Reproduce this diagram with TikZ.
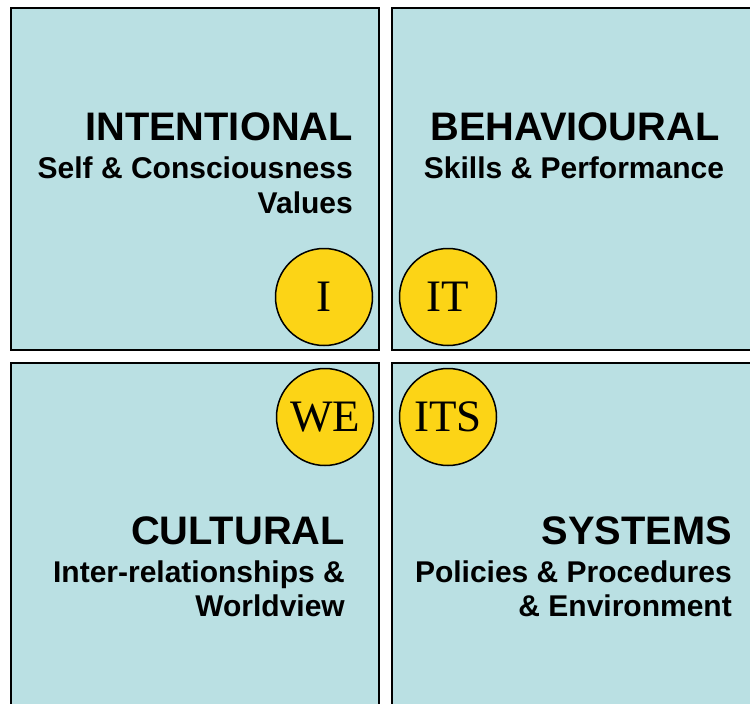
\documentclass[tikz,border=0pt]{standalone}
\usepackage{fontspec}
\setmainfont{Liberation Sans}
\newfontfamily\discfont{Liberation Serif}
\definecolor{quadfill}{RGB}{186,224,227}
\definecolor{discfill}{RGB}{252,212,22}

\begin{document}
\begin{tikzpicture}[x=1pt,y=-1pt,
  quadbox/.style={fill=quadfill,draw=black,line width=1.8pt},
  discnode/.style={circle,fill=discfill,draw=black,line width=1.5pt,
    minimum size=97pt,inner sep=0pt,
    font=\discfont\fontsize{45}{45}\selectfont},
  titletext/.style={font=\bfseries\fontsize{39.8}{42}\selectfont,inner sep=0pt},
  subtext/.style={font=\bfseries\fontsize{30}{32}\selectfont,inner sep=0pt}]
\useasboundingbox (0,0) rectangle (750,704);
\begin{scope}
\clip (0,0) rectangle (750,704);

% the four quadrants
\draw[quadbox] (11,8) rectangle (379,350);
\draw[quadbox] (392,8) rectangle (765,350);
\draw[quadbox] (11,363) rectangle (379,720);
\draw[quadbox] (392,363) rectangle (765,720);

% upper left: intentional
\node[titletext,anchor=base east] (intT) at (353,140.5) {INTENTIONAL};
\node[subtext,anchor=base east] (intA) at (353,178) {Self \& Consciousness};
\node[subtext,anchor=base east] (intB) at (353,213) {Values};

% upper right: behavioural
\node[titletext,anchor=base] (behT) at (575,140.5) {BEHAVIOURAL};
\node[subtext,anchor=base] (behA) at (574,178) {Skills \& Performance};

% lower left: cultural
\node[titletext,anchor=base east] (culT) at (345,544.5) {CULTURAL};
\node[subtext,anchor=base east] (culA) at (345,582) {Inter-relationships \&};
\node[subtext,anchor=base east] (culB) at (345,616) {Worldview};

% lower right: systems
\node[titletext,anchor=base east] (sysT) at (732,544.5) {SYSTEMS};
\node[subtext,anchor=base east] (sysA) at (732,582) {Policies \& Procedures};
\node[subtext,anchor=base east] (sysB) at (732,616) {\& Environment};

% the four discs at the centre
\node[discnode] (dI) at (324,297) {I};
\node[discnode] (dIT) at (448,297) {IT};
\node[discnode] (dWE) at (325,417) {WE};
\node[discnode] (dITS) at (448,417) {ITS};
\end{scope}
\end{tikzpicture}
\end{document}
